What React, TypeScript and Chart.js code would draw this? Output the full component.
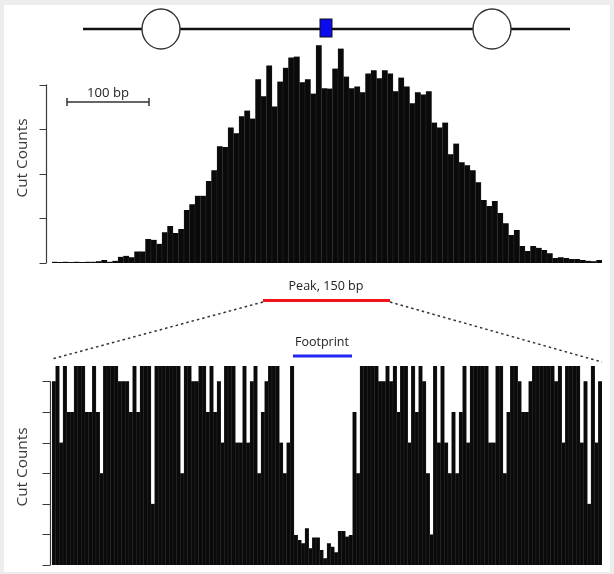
import React, { useEffect, useRef } from 'react';
import { Chart, registerables } from 'chart.js';
Chart.register(...registerables);

// Upper panel: cut counts along the region (in tick units)
const topCounts = [
  0.03, 0.02, 0.03, 0.02, 0.03, 0.02, 0.03, 0.03, 0.04, 0.07,
  0.03, 0.05, 0.14, 0.16, 0.13, 0.26, 0.26, 0.54, 0.52, 0.43,
  0.69, 0.83, 0.67, 0.76, 1.19, 1.32, 1.51, 1.51, 1.84, 2.08,
  2.62, 2.6, 3.04, 2.91, 3.29, 3.42, 3.24, 4.12, 3.74, 4.43,
  3.51, 4.07, 4.38, 4.61, 4.63, 4.05, 4.12, 3.8, 4.88, 3.92,
  3.91, 4.36, 4.81, 4.18, 3.92, 3.96, 3.83, 4.25, 4.32, 4.14,
  4.32, 4.25, 3.85, 4.16, 3.96, 3.58, 3.83, 3.78, 3.85, 3.15,
  3.04, 3.15, 2.44, 2.68, 2.26, 2.19, 2.08, 1.81, 1.41, 1.28,
  1.39, 1.12, 0.89, 0.63, 0.74, 0.38, 0.27, 0.38, 0.34, 0.29,
  0.22, 0.11, 0.13, 0.11, 0.09, 0.09, 0.07, 0.05, 0.04, 0.07,
];

// Lower panel: cut counts across the 150 bp peak
const bottomCounts = [
  6, 6.5, 4, 6.5, 5, 5, 6.5, 6.5, 6.5, 5,
  5, 6.5, 5, 3, 6.5, 6.5, 6.5, 6.5, 6, 6,
  6, 5, 6.5, 5, 6.5, 6.5, 6.5, 2, 6.5, 6.5,
  6.5, 6.5, 6.5, 6.5, 6.5, 3, 6.5, 6.5, 6, 6,
  6.5, 6.5, 5, 6.5, 5, 6, 4, 6.5, 6.5, 6.5,
  4, 4, 6.5, 4, 6, 6.5, 3, 5, 6, 6.5,
  6.5, 6.5, 4, 3, 4, 6.5, 0.98, 0.82, 0.71, 1.2,
  0.55, 0.9, 0.9, 0.49, 0.22, 0.71, 0.6, 0.42, 1.11, 1.11,
  0.93, 0.98, 5, 3, 6.5, 6.5, 6.5, 6.5, 6.5, 6,
  6, 6.5, 6, 6.5, 5, 6.5, 6.5, 4, 6.5, 5,
  6.5, 6, 3, 1, 6.5, 4, 6.5, 4, 3, 5,
  3, 5, 6.5, 4, 6.5, 6.5, 6.5, 6.5, 6.5, 4,
  4, 6.5, 6.5, 3, 5, 6.5, 6.5, 6, 5, 5,
  6, 6.5, 6.5, 6.5, 6.5, 6.5, 6.5, 6, 6.5, 4,
  6.5, 6.5, 6.5, 6.5, 4, 6, 2, 6.5, 4, 6,
];

const topTicks = [0, 1, 2, 3, 4];
const bottomTicks = [0, 1, 2, 3, 4, 5, 6];
const topPositions = topCounts.map((_, i) => String(i));
const bottomPositions = bottomCounts.map((_, i) => String(i));

const yTitle = 'Cut Counts';
const scaleLabel = '100 bp';
const peakLabel = 'Peak, 150 bp';
const footprintLabel = 'Footprint';

const rAxisPlugin = {
  id: 'rAxis',
  afterDatasetsDraw(chart: any, _args: any, opts: any) {
    const { ctx } = chart;
    const y = chart.scales.y;
    const ticks: number[] = opts.ticks;
    const x0 = opts.x;
    ctx.save();
    ctx.strokeStyle = '#3a3a3a';
    ctx.lineWidth = 1.2;
    ctx.beginPath();
    ctx.moveTo(x0, y.getPixelForValue(ticks[0]));
    ctx.lineTo(x0, y.getPixelForValue(ticks[ticks.length - 1]));
    ticks.forEach((v) => {
      const py = Math.round(y.getPixelForValue(v)) + 0.5;
      ctx.moveTo(x0 - opts.len, py);
      ctx.lineTo(x0, py);
    });
    ctx.stroke();
    ctx.restore();
  },
};

function makeChart(canvas: HTMLCanvasElement, labels: string[], data: number[], yMax: number, padding: any, axis: any) {
  return new Chart(canvas, {
    type: 'bar',
    data: {
      labels,
      datasets: [
        {
          data,
          backgroundColor: '#0a0a0a',
          borderColor: '#3e3e3e',
          borderWidth: { left: 0.4, right: 0.4, top: 0, bottom: 0 } as any,
          barPercentage: 1,
          categoryPercentage: 1,
        },
      ],
    },
    options: {
      responsive: false,
      maintainAspectRatio: false,
      animation: false,
      events: [],
      layout: { padding },
      scales: {
        x: { display: false },
        y: { display: false, min: 0, max: yMax },
      },
      plugins: {
        legend: { display: false },
        tooltip: { enabled: false },
        rAxis: axis,
      } as any,
    },
    plugins: [rAxisPlugin as any],
  });
}

export default function App() {
  const topRef = useRef<HTMLCanvasElement>(null);
  const botRef = useRef<HTMLCanvasElement>(null);

  useEffect(() => {
    const c1 = makeChart(topRef.current!, topPositions, topCounts, 5, { left: 52, right: 12, top: 0, bottom: 7 }, { x: 46.5, len: 7, ticks: topTicks });
    const c2 = makeChart(botRef.current!, bottomPositions, bottomCounts, 6.5, { left: 52, right: 12, top: 6, bottom: 9 }, { x: 50.5, len: 8, ticks: bottomTicks });
    return () => {
      c1.destroy();
      c2.destroy();
    };
  }, []);

  const font = "'Open Sans', 'DejaVu Sans', sans-serif";

  return (
    <div style={{ position: 'fixed', left: 0, top: 0, width: 614, height: 574, background: '#ededed', overflow: 'hidden' }}>
      <div style={{ position: 'absolute', left: 4, top: 5, width: 606, height: 567, background: '#ffffff' }} />
      <canvas ref={topRef} width={614} height={230} style={{ position: 'absolute', left: 0, top: 40, width: 614, height: 230 }} />
      <canvas ref={botRef} width={614} height={214} style={{ position: 'absolute', left: 0, top: 360, width: 614, height: 214 }} />
      <svg width={614} height={574} style={{ position: 'absolute', left: 0, top: 0, pointerEvents: 'none' }}>
        {/* chromosome schematic */}
        <line x1={83} y1={29} x2={570} y2={29} stroke="#111" strokeWidth={2.5} />
        <ellipse cx={161} cy={29} rx={19} ry={20} fill="#fff" stroke="#333" strokeWidth={1.4} />
        <ellipse cx={492} cy={29} rx={19} ry={20} fill="#fff" stroke="#333" strokeWidth={1.4} />
        <rect x={320} y={19} width={12} height={18} fill="#0b0bf0" stroke="#111" strokeWidth={1} />

        {/* scale bar */}
        <g stroke="#333" strokeWidth={1.5}>
          <line x1={67} y1={102} x2={149} y2={102} />
          <line x1={67} y1={98} x2={67} y2={106} />
          <line x1={149} y1={98} x2={149} y2={106} />
        </g>
        <text x={108} y={97} textAnchor="middle" fontFamily={font} fontSize={12} fill="#222" textLength={42} lengthAdjust="spacingAndGlyphs">{scaleLabel}</text>

        {/* y titles */}
        <text transform="translate(27,158) rotate(-90)" textAnchor="middle" fontFamily={font} fontSize={14} fill="#3a3a3a" textLength={79} lengthAdjust="spacingAndGlyphs">{yTitle}</text>
        <text transform="translate(27,467) rotate(-90)" textAnchor="middle" fontFamily={font} fontSize={14} fill="#3a3a3a" textLength={79} lengthAdjust="spacingAndGlyphs">{yTitle}</text>

        {/* peak */}
        <text x={326} y={290} textAnchor="middle" fontFamily={font} fontSize={12} fill="#222" textLength={75} lengthAdjust="spacingAndGlyphs">{peakLabel}</text>
        <line x1={263} y1={300.5} x2={390} y2={300.5} stroke="#f0141e" strokeWidth={3} />
        <g stroke="#333" strokeWidth={1.5} strokeDasharray="2.5 3">
          <line x1={263} y1={302} x2={52} y2={359} />
          <line x1={390} y1={302} x2={602} y2={362} />
        </g>

        {/* footprint */}
        <text x={322} y={346} textAnchor="middle" fontFamily={font} fontSize={12} fill="#222" textLength={54} lengthAdjust="spacingAndGlyphs">{footprintLabel}</text>
        <line x1={293} y1={356} x2={352} y2={356} stroke="#2424f5" strokeWidth={3} />
      </svg>
    </div>
  );
}
